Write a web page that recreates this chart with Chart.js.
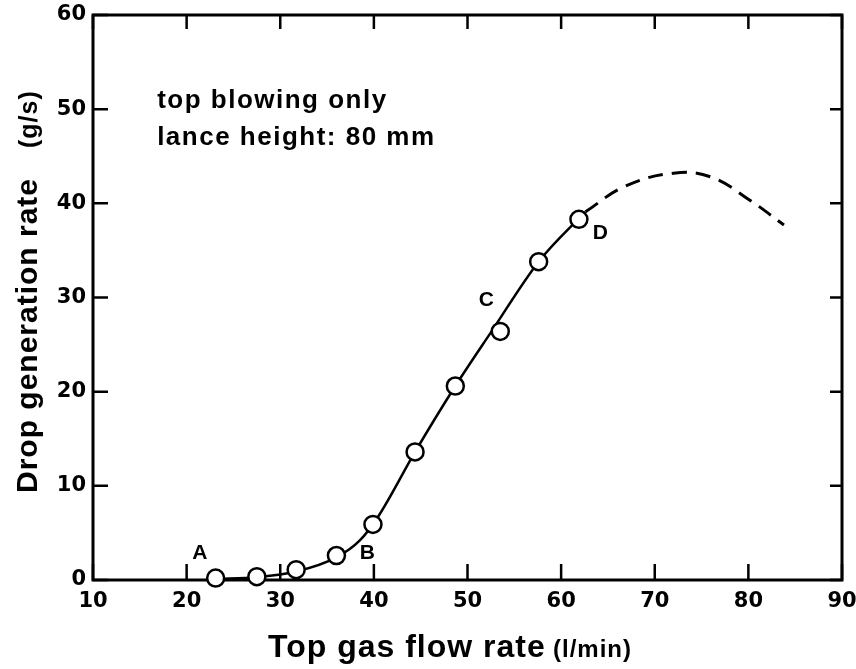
<!DOCTYPE html>
<html>
<head>
<meta charset="utf-8">
<title>Drop generation rate</title>
<script src="https://cdn.jsdelivr.net/npm/chart.js@4.4.1/dist/chart.umd.min.js"></script>
<style>
  html, body { margin: 0; padding: 0; background: #fff; }
</style>
</head>
<body>
<canvas id="dropChart" width="856" height="669"></canvas>
<script>
// measured points (open circles)
const flowRate = [23.1, 27.5, 31.7, 36.0, 39.9, 44.4, 48.7, 53.5, 57.6, 61.9];
const dropRate = [0.2, 0.35, 1.1, 2.6, 5.9, 13.6, 20.6, 26.4, 33.8, 38.3];

// hand drawn curve, solid part
const fitFlow = [23.1, 27.5, 31.7, 36.0, 38.5, 40.5, 44.4, 48.7, 52.5, 57.6, 61.9, 62.6];
const fitRate = [0.1, 0.3, 0.9, 2.4, 4.2, 6.8, 13.6, 20.6, 26.3, 33.8, 38.4, 39.1];

// extrapolated part (dashed)
const dashFlow = [62.6, 66.8, 72.0, 76.0, 80.2, 83.8];
const dashRate = [39.1, 41.8, 43.2, 42.8, 40.3, 37.7];

// axis ticks
const xTicks = [10, 20, 30, 40, 50, 60, 70, 80, 90];
const yTicks = [0, 10, 20, 30, 40, 50, 60];

// letters next to the curve
const markText = ["A", "B", "C", "D"];
const markFlow = [21.4, 39.3, 52.0, 64.2];
const markRate = [2.8, 2.8, 29.7, 36.8];

// note in the upper left
const noteLines = ["top blowing only", "lance height: 80 mm"];
const noteFlow = 16.85;
const noteRate = [50.1, 46.2];

const toXY = (xs, ys) => xs.map((v, i) => ({ x: v, y: ys[i] }));

const paperPlugin = {
    id: "paper",
    beforeDatasetsDraw(chart) {
        const { ctx, chartArea: a, scales: { x, y } } = chart;
        ctx.save();
        ctx.strokeStyle = "#000";
        ctx.lineWidth = 3;
        ctx.strokeRect(a.left, a.top, a.right - a.left, a.bottom - a.top);
        // inward ticks on all four sides
        ctx.lineWidth = 2.5;
        ctx.beginPath();
        xTicks.forEach((v) => {
            const px = x.getPixelForValue(v);
            ctx.moveTo(px, a.bottom);
            ctx.lineTo(px, a.bottom - 16);
            ctx.moveTo(px, a.top);
            ctx.lineTo(px, a.top + 14);
        });
        yTicks.forEach((v) => {
            const py = y.getPixelForValue(v);
            ctx.moveTo(a.left, py);
            ctx.lineTo(a.left + 15, py);
            ctx.moveTo(a.right, py);
            ctx.lineTo(a.right - 12, py);
        });
        ctx.stroke();
        ctx.restore();
    },
    afterDraw(chart) {
        const { ctx, chartArea: a, scales: { x, y } } = chart;
        ctx.save();
        ctx.fillStyle = "#000";

        // letters A-D
        ctx.font = "bold 21px 'Liberation Sans', Arial, sans-serif";
        ctx.textAlign = "center";
        ctx.textBaseline = "middle";
        markText.forEach((t, i) => {
            ctx.fillText(t, x.getPixelForValue(markFlow[i]), y.getPixelForValue(markRate[i]));
        });

        // note
        ctx.font = "bold 26px 'Liberation Sans', Arial, sans-serif";
        ctx.textAlign = "left";
        ctx.textBaseline = "alphabetic";
        ctx.letterSpacing = "1.5px";
        noteLines.forEach((t, i) => {
            ctx.fillText(t, x.getPixelForValue(noteFlow), y.getPixelForValue(noteRate[i]));
        });

        // x axis title
        const base = a.bottom + 77;
        ctx.letterSpacing = "1px";
        ctx.font = "bold 32px 'Liberation Sans', Arial, sans-serif";
        ctx.fillText("Top gas flow rate", a.left + 175, base);
        ctx.font = "bold 24px 'Liberation Sans', Arial, sans-serif";
        ctx.fillText("(l/min)", a.left + 460, base);

        // y axis title, rotated
        ctx.translate(a.left - 56, 0);
        ctx.rotate(-Math.PI / 2);
        ctx.font = "bold 30px 'Liberation Sans', Arial, sans-serif";
        ctx.fillText("Drop generation rate", -493, 0);
        ctx.font = "bold 25px 'Liberation Sans', Arial, sans-serif";
        ctx.fillText("(g/s)", -148, 0);
        ctx.restore();
    },
};

const tickFont = { family: "'DejaVu Sans', sans-serif", size: 21, weight: "bold" };

new Chart(document.getElementById("dropChart"), {
    type: "scatter",
    data: {
        datasets: [
            {
                label: "measured",
                data: toXY(flowRate, dropRate),
                pointRadius: 8.5,
                pointBorderWidth: 2.5,
                pointBackgroundColor: "#fff",
                pointBorderColor: "#000",
                showLine: false,
                clip: false,
            },
            {
                label: "curve",
                data: toXY(fitFlow, fitRate),
                showLine: true,
                borderColor: "#000",
                borderWidth: 2.5,
                pointRadius: 0,
                cubicInterpolationMode: "monotone",
                clip: false,
            },
            {
                label: "extrapolated",
                data: toXY(dashFlow, dashRate),
                showLine: true,
                borderColor: "#000",
                borderWidth: 3,
                borderDash: [15, 9],
                pointRadius: 0,
                tension: 0.4,
                clip: false,
            },
        ],
    },
    options: {
        responsive: false,
        animation: false,
        layout: { padding: { top: 15, right: 14, left: 0, bottom: 0 } },
        plugins: {
            legend: { display: false },
            tooltip: { enabled: false },
        },
        scales: {
            x: {
                type: "linear",
                min: 10,
                max: 90,
                afterBuildTicks: (s) => { s.ticks = xTicks.map((v) => ({ value: v })); },
                afterFit: (s) => { s.height = 89; s.paddingLeft = 0; s.paddingRight = 0; },
                grid: { display: false, drawTicks: false },
                border: { display: false },
                ticks: { color: "#000", font: tickFont, padding: 9, maxRotation: 0 },
            },
            y: {
                min: 0,
                max: 60,
                afterBuildTicks: (s) => { s.ticks = yTicks.map((v) => ({ value: v })); },
                afterFit: (s) => { s.width = 93; s.paddingTop = 0; s.paddingBottom = 0; },
                grid: { display: false, drawTicks: false },
                border: { display: false },
                ticks: { color: "#000", font: tickFont, padding: 7 },
            },
        },
    },
    plugins: [paperPlugin],
});
</script>
</body>
</html>
